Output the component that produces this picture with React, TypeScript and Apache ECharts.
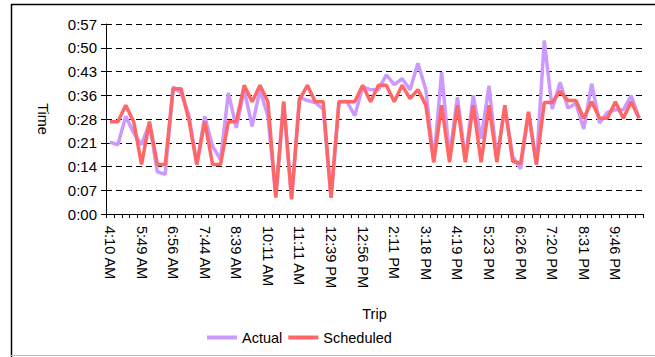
import React, { useEffect, useRef } from "react";
import * as echarts from "echarts";

// Trip start times (only every fourth one is labelled on the axis)
const trips = [
  "4:10 AM", "4:35 AM", "5:02 AM", "5:25 AM",
  "5:49 AM", "6:10 AM", "6:25 AM", "6:40 AM",
  "6:56 AM", "7:08 AM", "7:20 AM", "7:32 AM",
  "7:44 AM", "7:58 AM", "8:12 AM", "8:25 AM",
  "8:39 AM", "9:02 AM", "9:25 AM", "9:48 AM",
  "10:11 AM", "10:26 AM", "10:41 AM", "10:56 AM",
  "11:11 AM", "11:33 AM", "11:55 AM", "12:17 PM",
  "12:39 PM", "12:43 PM", "12:48 PM", "12:52 PM",
  "12:56 PM", "1:15 PM", "1:34 PM", "1:52 PM",
  "2:11 PM", "2:28 PM", "2:45 PM", "3:01 PM",
  "3:18 PM", "3:33 PM", "3:49 PM", "4:04 PM",
  "4:19 PM", "4:35 PM", "4:51 PM", "5:07 PM",
  "5:23 PM", "5:39 PM", "5:55 PM", "6:10 PM",
  "6:26 PM", "6:40 PM", "6:53 PM", "7:07 PM",
  "7:20 PM", "7:38 PM", "7:55 PM", "8:13 PM",
  "8:31 PM", "8:50 PM", "9:09 PM", "9:27 PM",
  "9:46 PM", "10:05 PM", "10:25 PM", "10:45 PM",
];

// Running times in minutes
const actual = [
  21.8, 21.0, 29.6, 24.6, 21.0, 27.5, 12.8, 12.0, 38.5, 36.7,
  30.0, 15.0, 29.6, 20.5, 16.5, 36.7, 26.1, 37.7, 26.6, 37.7,
  29.6, 5.4, 34.1, 4.4, 35.4, 34.4, 33.8, 31.8, 4.9, 34.1,
  34.1, 29.8, 38.5, 37.7, 37.7, 42.2, 39.2, 41.0, 37.7, 45.7,
  37.7, 15.7, 43.0, 17.5, 35.4, 16.5, 35.9, 22.8, 38.9, 16.5,
  32.6, 17.5, 13.7, 30.6, 15.0, 52.6, 31.8, 39.9, 32.1, 33.6,
  25.8, 39.5, 27.6, 30.8, 31.6, 31.6, 35.9, 29.1,
];

const scheduled = [
  28, 28, 33, 28, 15, 28, 15, 15, 38, 38,
  28.5, 15, 28, 15, 15, 28, 28, 39, 34, 39,
  34, 5, 34, 4.6, 34.6, 39, 34, 34, 5, 34,
  34, 34, 39, 34, 39, 39, 34, 39, 35, 37.7,
  33, 15.7, 33, 15.7, 33, 15.7, 33, 15.7, 33, 15.7,
  33, 16, 15.3, 31, 15, 33.8, 33.8, 37.2, 34.4, 34.4,
  29, 34, 29, 29, 34, 29, 34, 29,
];

// Axis steps are 0.005 day (7.2 min), shown as h:mm
const yTickLabels = ["0:00", "0:07", "0:14", "0:21", "0:28", "0:36", "0:43", "0:50", "0:57"];
const yStep = 7.2;

const FONT = "'Liberation Sans', Arial, sans-serif";

export default function App() {
  const ref = useRef<HTMLDivElement>(null);

  useEffect(() => {
    const chart = echarts.init(ref.current!, null, { renderer: "svg" });
    chart.setOption({
      animation: false,
      textStyle: { fontFamily: FONT, color: "#000" },
      grid: { left: 106, right: 12, top: 24, bottom: 143, containLabel: false },
      legend: {
        data: ["Actual", "Scheduled"],
        left: 202,
        top: 325,
        icon: "rect",
        itemWidth: 30,
        itemHeight: 4,
        itemGap: 6,
        textStyle: { fontFamily: FONT, fontSize: 14.5, color: "#000" },
      },
      xAxis: {
        type: "category",
        data: trips,
        boundaryGap: true,
        name: "Trip",
        nameLocation: "middle",
        nameGap: 92,
        nameTextStyle: { fontFamily: FONT, fontSize: 14.5, color: "#000" },
        axisLine: { lineStyle: { color: "#000", width: 1 } },
        axisTick: { show: true, interval: 0, length: 4, lineStyle: { color: "#000" } },
        axisLabel: {
          interval: 3,
          rotate: -90,
          margin: 12,
          fontFamily: FONT,
          fontSize: 14.5,
          color: "#000",
        },
        splitLine: { show: false },
      },
      yAxis: {
        type: "value",
        min: 0,
        max: yStep * 8,
        interval: yStep,
        name: "Time",
        nameLocation: "middle",
        nameRotate: -90,
        nameGap: 56,
        nameTextStyle: { fontFamily: FONT, fontSize: 14.5, color: "#000" },
        axisLine: { show: true, lineStyle: { color: "#000", width: 1 } },
        axisTick: { show: true, length: 5, lineStyle: { color: "#000" } },
        axisLabel: {
          margin: 9,
          fontFamily: FONT,
          fontSize: 15,
          color: "#000",
          formatter: (v: number) => yTickLabels[Math.round(v / yStep)] ?? "",
        },
        splitLine: { show: true, lineStyle: { color: "#000", width: 1, type: [6, 4] } },
      },
      series: [
        {
          name: "Actual",
          type: "line",
          data: actual,
          showSymbol: false,
          symbol: "none",
          itemStyle: { color: "#CC99FF" },
          lineStyle: { color: "#CC99FF", width: 3.5 },
        },
        {
          name: "Scheduled",
          type: "line",
          data: scheduled,
          showSymbol: false,
          symbol: "none",
          itemStyle: { color: "#FF6666" },
          lineStyle: { color: "#FF6666", width: 3.5 },
        },
      ],
      graphic: [
        { type: "line", shape: { x1: 11, y1: 4.5, x2: 655, y2: 4.5 }, style: { stroke: "#000", lineWidth: 1.5 } },
        { type: "line", shape: { x1: 11.5, y1: 4, x2: 11.5, y2: 357 }, style: { stroke: "#000", lineWidth: 1.5 } },
        { type: "line", shape: { x1: 11, y1: 355.5, x2: 655, y2: 355.5 }, style: { stroke: "#BBBBBB", lineWidth: 1 } },
      ],
    });
    return () => chart.dispose();
  }, []);

  return (
    <div
      ref={ref}
      style={{ position: "absolute", left: 0, top: 0, width: 655, height: 357 }}
    />
  );
}
